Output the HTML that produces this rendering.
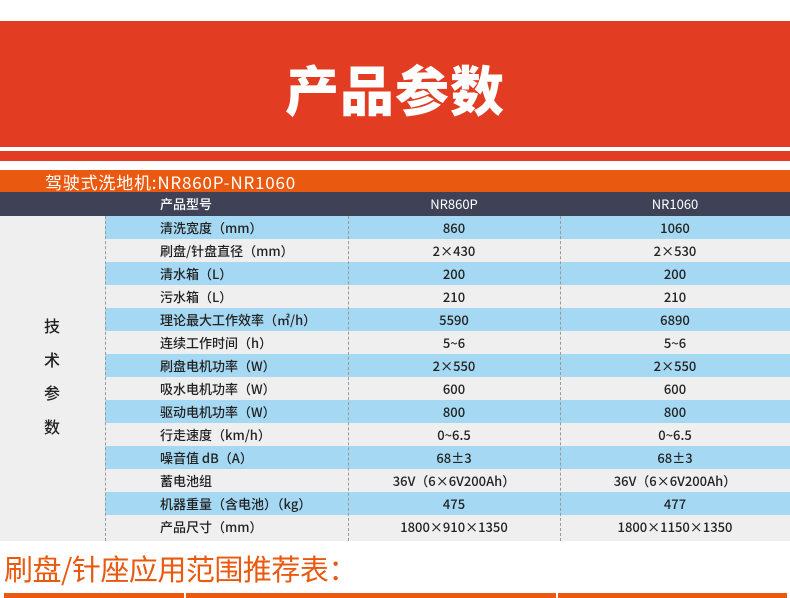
<!DOCTYPE html>
<html><head><meta charset="utf-8"><style>
*{margin:0;padding:0;box-sizing:border-box}
body{width:790px;height:598px;background:#fff;position:relative;overflow:hidden;font-family:"Noto Sans CJK SC","Liberation Sans",sans-serif}
.abs{position:absolute}
.row{position:absolute;left:105px;width:685px;height:23px;font-size:13px;font-weight:500;color:#222;line-height:23px}
.row span{position:absolute;top:0;white-space:nowrap}
.c1{left:55px}
.c2{left:243px;width:212px;text-align:center}
.c3{left:455px;width:230px;text-align:center}
.dash{position:absolute;top:216px;height:325px;border-left:1px dashed #999}
</style></head><body>
<div class="abs" style="left:0;top:21px;width:790px;height:126px;background:#e23d22"></div>
<div class="abs" style="left:0;top:52px;width:790px;text-align:center;color:#fff;font-size:54px;font-weight:900;line-height:72px;letter-spacing:1px">产品参数</div>
<div class="abs" style="left:0;top:151px;width:790px;height:10px;background:#e23d22"></div>
<div class="abs" style="left:0;top:170px;width:790px;height:22px;background:#e9590f"></div>
<div class="abs" style="left:45px;top:170px;color:#fff;font-size:17px;line-height:23px;letter-spacing:0.8px;white-space:nowrap">驾驶式洗地机:NR860P-NR1060</div>
<div class="abs" style="left:0;top:192px;width:790px;height:24px;background:#3f4157"></div>
<div class="abs" style="left:160px;top:192px;color:#fff;font-size:13px;font-weight:500;line-height:24px">产品型号</div>
<div class="abs" style="left:348px;top:192px;width:212px;text-align:center;color:#fff;font-size:13px;line-height:24px">NR860P</div>
<div class="abs" style="left:560px;top:192px;width:230px;text-align:center;color:#fff;font-size:13px;line-height:24px">NR1060</div>
<div class="abs" style="left:0;top:216px;width:790px;height:325px;background:#efefef"></div>
<div class="row" style="top:216px;background:#a5d8f3"><span class="c1">清洗宽度（mm）</span><span class="c2">860</span><span class="c3">1060</span></div>
<div class="row" style="top:239px"><span class="c1">刷盘/针盘直径（mm）</span><span class="c2">2×430</span><span class="c3">2×530</span></div>
<div class="row" style="top:262px;background:#a5d8f3"><span class="c1">清水箱（L）</span><span class="c2">200</span><span class="c3">200</span></div>
<div class="row" style="top:285px"><span class="c1">污水箱（L）</span><span class="c2">210</span><span class="c3">210</span></div>
<div class="row" style="top:308px;background:#a5d8f3"><span class="c1">理论最大工作效率（㎡/h）</span><span class="c2">5590</span><span class="c3">6890</span></div>
<div class="row" style="top:331px"><span class="c1">连续工作时间（h）</span><span class="c2">5~6</span><span class="c3">5~6</span></div>
<div class="row" style="top:354px;background:#a5d8f3"><span class="c1">刷盘电机功率（W）</span><span class="c2">2×550</span><span class="c3">2×550</span></div>
<div class="row" style="top:377px"><span class="c1">吸水电机功率（W）</span><span class="c2">600</span><span class="c3">600</span></div>
<div class="row" style="top:400px;background:#a5d8f3"><span class="c1">驱动电机功率（W）</span><span class="c2">800</span><span class="c3">800</span></div>
<div class="row" style="top:423px"><span class="c1">行走速度（km/h）</span><span class="c2">0~6.5</span><span class="c3">0~6.5</span></div>
<div class="row" style="top:446px;background:#a5d8f3"><span class="c1">噪音值 dB（A）</span><span class="c2">68±3</span><span class="c3">68±3</span></div>
<div class="row" style="top:469px"><span class="c1">蓄电池组</span><span class="c2">36V（6×6V200Ah）</span><span class="c3">36V（6×6V200Ah）</span></div>
<div class="row" style="top:492px;background:#a5d8f3"><span class="c1">机器重量（含电池）（kg）</span><span class="c2">475</span><span class="c3">477</span></div>
<div class="row" style="top:515px"><span class="c1">产品尺寸（mm）</span><span class="c2">1800×910×1350</span><span class="c3">1800×1150×1350</span></div>
<div class="dash" style="left:105px"></div>
<div class="dash" style="left:348px"></div>
<div class="dash" style="left:560px"></div>
<div class="abs" style="left:44px;top:309px;font-size:16px;font-weight:500;color:#222;line-height:33.5px;width:20px">技<br>术<br>参<br>数</div>
<div class="abs" style="left:4px;top:549px;color:#e9590f;font-size:29px;line-height:38px;white-space:nowrap;letter-spacing:-0.5px">刷盘/针座应用范围推荐表：</div>
<div class="abs" style="left:4px;top:593px;width:783px;height:5px;background:#e9590f"></div>
<div class="abs" style="left:184px;top:593px;width:2px;height:5px;background:#fff"></div>
<div class="abs" style="left:556px;top:593px;width:2px;height:5px;background:#fff"></div>
</body></html>
